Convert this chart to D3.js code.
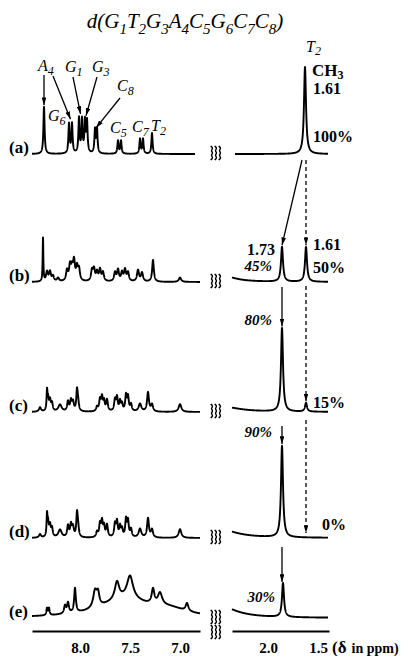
<!DOCTYPE html>
<html>
<head>
<meta charset="utf-8">
<title>NMR spectra d(GTGACGCC)</title>
<script src="https://d3js.org/d3.v7.min.js"></script>
<style>
  body { margin: 0; background: #fff; }
  svg text { font-family: "Liberation Serif", "Times New Roman", serif; fill: #000; }
  .trace { fill: none; stroke: #000; stroke-width: 1.9; stroke-linejoin: round; }
  .row-label { font-size: 17px; font-weight: bold; }
  .peak-name { font-size: 16px; font-style: italic; }
  .bold { font-size: 16px; font-weight: bold; }
  .bold-it { font-size: 15px; font-weight: bold; font-style: italic; }
  .arrow { stroke: #000; stroke-width: 1.3; fill: none; }
  .dash { stroke-dasharray: 4 3; }
  .axis path { stroke: #000; stroke-width: 2; }
  .axis text { font-size: 15px; font-weight: bold; }
  .brk { fill: none; stroke: #000; stroke-width: 1.4; }
</style>
</head>
<body>
<svg id="chart" width="419" height="656"></svg>
<script>
// tick labels (ppm)
const leftTicks = [8.0, 7.5, 7.0];
const rightTicks = [2.0, 1.5];
const rowLabels = ["(a)", "(b)", "(c)", "(d)", "(e)"];

// peaks: [ppm, intensity (% of T2 CH3 in a), half width (ppm)]
const aLeft = [
  [8.36, 54, 0.007],
  [8.11, 34, 0.007], [8.08, 34, 0.007],
  [8.01, 40, 0.007], [7.98, 38, 0.007],
  [7.95, 36, 0.007], [7.93, 36, 0.007],
  [7.85, 27, 0.007], [7.83, 27, 0.007],
  [7.62, 15, 0.007], [7.59, 15, 0.007],
  [7.40, 17, 0.007], [7.37, 17, 0.007],
  [7.28, 24, 0.007]
];
const aRight = [[1.63, 100, 0.012]];

const bLeft = [
  [8.37, 50, 0.004],
  [8.33, 11, 0.011], [8.30, 11, 0.011], [8.27, 6, 0.011], [8.22, 4, 0.012],
  [8.13, 12, 0.011], [8.10, 17, 0.011], [8.08, 13, 0.011], [8.06, 22, 0.011], [8.03, 15, 0.011], [8.01, 13, 0.011],
  [7.88, 12, 0.011], [7.86, 13, 0.011], [7.83, 10, 0.011], [7.80, 13, 0.011], [7.77, 10, 0.011],
  [7.65, 10, 0.011], [7.62, 13, 0.011], [7.58, 10, 0.011], [7.55, 13, 0.011], [7.52, 10, 0.011],
  [7.42, 13, 0.012], [7.38, 10, 0.012],
  [7.27, 25, 0.01],
  [7.00, 5, 0.014]
];
const bRight = [[2.45, 7, 0.15], [1.86, 40, 0.012], [1.62, 40, 0.012]];

const cLeft = [
  [8.40, 5, 0.012],
  [8.33, 20, 0.005], [8.32, 14, 0.009], [8.30, 12, 0.009], [8.28, 9, 0.009],
  [8.20, 8, 0.02],
  [8.12, 11, 0.01], [8.09, 12, 0.01], [8.07, 10, 0.01], [8.03, 22, 0.008], [8.02, 10, 0.01],
  [7.83, 5, 0.01], [7.80, 13, 0.01], [7.78, 15, 0.009], [7.76, 11, 0.009], [7.73, 13, 0.01],
  [7.65, 13, 0.01], [7.63, 15, 0.009], [7.60, 11, 0.009], [7.58, 8, 0.009],
  [7.54, 18, 0.009], [7.52, 16, 0.009], [7.49, 8, 0.01],
  [7.40, 9, 0.016],
  [7.32, 22, 0.011], [7.28, 8, 0.012],
  [7.00, 9, 0.016]
];
const cRight = [[2.45, 6, 0.2], [1.86, 96, 0.012], [1.62, 10, 0.012]];

const dLeft = [
  [8.40, 4, 0.012],
  [8.33, 22, 0.005], [8.32, 16, 0.009], [8.30, 13, 0.009], [8.28, 10, 0.009],
  [8.20, 9, 0.02],
  [8.12, 13, 0.01], [8.09, 14, 0.01], [8.07, 11, 0.01], [8.03, 25, 0.008], [8.02, 11, 0.01],
  [7.83, 6, 0.01], [7.80, 15, 0.01], [7.78, 17, 0.009], [7.76, 12, 0.009], [7.73, 14, 0.01],
  [7.65, 15, 0.01], [7.63, 17, 0.009], [7.60, 12, 0.009], [7.58, 9, 0.009],
  [7.54, 20, 0.009], [7.52, 18, 0.009], [7.49, 9, 0.01],
  [7.40, 10, 0.016],
  [7.32, 22, 0.011], [7.28, 9, 0.012],
  [7.00, 10, 0.016]
];
const dRight = [[2.5, 11, 0.2], [1.86, 105, 0.012]];

const eLeft = [
  [7.55, 21, 0.30], [7.10, 7, 0.2],
  [8.33, 8, 0.007], [8.31, 8, 0.007],
  [8.15, 9, 0.011], [8.12, 12, 0.011],
  [8.05, 28, 0.01],
  [7.85, 19, 0.022], [7.82, 14, 0.016],
  [7.63, 20, 0.026],
  [7.50, 26, 0.036],
  [7.27, 17, 0.016], [7.20, 14, 0.026],
  [6.93, 9, 0.016]
];
const eRight = [[2.5, 15, 0.2], [1.85, 39, 0.012]];

// labels
const titleParts = [["d(", ""], ["G", "1"], ["T", "2"], ["G", "3"], ["A", "4"], ["C", "5"], ["G", "6"], ["C", "7"], ["C", "8"], [")", ""]];
const methylPct = ["100%", "50%", "15%", "0%"];
const newPct = ["45%", "80%", "90%", "30%"];

// ---- layout
const svg = d3.select("#chart");
const rowBase = [154, 282, 412, 538, 618];
const xl = d3.scaleLinear().domain([8.48, 6.80]).range([32, 200]);
const xr = d3.scaleLinear().domain([2.36, 1.39]).range([232, 329]);
const yRow = i => d3.scaleLinear().domain([0, 100]).range([rowBase[i], rowBase[i] - 87]);

const defs = svg.append("defs");
defs.append("marker").attr("id", "ah")
  .attr("viewBox", "0 0 10 6").attr("refX", 10).attr("refY", 3)
  .attr("markerWidth", 6).attr("markerHeight", 3.6).attr("orient", "auto")
  .append("path").attr("d", "M0,0 L10,3 L0,6 Z").attr("fill", "#000");

function spectrum(peaks, hi, lo) {
  const pts = [];
  for (let p = hi; p >= lo - 1e-9; p -= 0.001) {
    let s = 0;
    for (const [c, h, w] of peaks) s += h / (1 + ((p - c) / w) ** 2);
    pts.push([p, s]);
  }
  return pts;
}

function drawTrace(peaks, x, y, hi, lo) {
  const line = d3.line().x(d => x(d[0])).y(d => y(d[1]));
  svg.append("path").attr("class", "trace").attr("d", line(spectrum(peaks, hi, lo)));
}

const lefts = [aLeft, bLeft, cLeft, dLeft, eLeft];
const rights = [aRight, bRight, cRight, dRight, eRight];
lefts.forEach((pk, i) => drawTrace(pk, xl, yRow(i), 8.48, i === 0 ? 6.85 : 6.80));
rights.forEach((pk, i) => drawTrace(pk, xr, yRow(i), i === 0 ? 2.33 : 2.36, 1.40));

// row labels
rowLabels.forEach((t, i) => {
  svg.append("text").attr("class", "row-label").attr("x", 9).attr("y", rowBase[i] - 1).text(t);
});

// break marks
function breakMark(x0, yc) {
  const zig = d3.line().curve(d3.curveBasis);
  for (let k = 0; k < 3; k++) {
    const pts = d3.range(7).map(j => [x0 + k * 4 + (j % 2 ? 1.3 : -1.3), yc - 7 + j * 14 / 6]);
    svg.append("path").attr("class", "brk").attr("d", zig(pts));
  }
}
rowBase.forEach(b => breakMark(212, b - 1));
breakMark(212, 632);

// axes
svg.append("g").attr("class", "axis").attr("transform", "translate(0,631)")
  .call(d3.axisBottom(xl).tickValues(leftTicks).tickSize(0).tickPadding(11).tickFormat(d3.format(".1f")));
svg.append("g").attr("class", "axis").attr("transform", "translate(0,631)")
  .call(d3.axisBottom(xr).tickValues(rightTicks).tickSize(0).tickPadding(11).tickFormat(d3.format(".1f")));
const unit = svg.append("text").attr("x", 332).attr("y", 653);
unit.append("tspan").attr("class", "bold").style("font-size", "17px").text("(δ");
unit.append("tspan").attr("class", "bold").attr("dx", 5).style("font-size", "14px").text("in ppm)");

// text with subscripts
function subText(x, y, parts, cls, size, subSize, anchor, shift) {
  const t = svg.append("text").attr("class", cls).attr("x", x).attr("y", y)
    .attr("text-anchor", anchor || "start").style("font-size", size + "px");
  let down = false;
  const sh = shift != null ? shift : Math.round(size * 0.28);
  parts.forEach(([m, s]) => {
    if (m) t.append("tspan").attr("dy", down ? -sh : 0).text(m), down = false;
    if (s) t.append("tspan").attr("dy", sh).style("font-size", subSize + "px").text(s), down = true;
  });
  return t;
}

// title
subText(185, 28, titleParts, "peak-name", 21, 15, "middle");

// peak assignments in (a)
const ya = yRow(0);
subText(38, 71, [["A", "4"]], "peak-name", 16, 12);
subText(65, 72, [["G", "1"]], "peak-name", 16, 12);
subText(92, 72, [["G", "3"]], "peak-name", 16, 12);
subText(117, 91, [["C", "8"]], "peak-name", 16, 12);
subText(48, 121, [["G", "6"]], "peak-name", 16, 12);
subText(110, 133, [["C", "5"]], "peak-name", 16, 12);
subText(132, 132, [["C", "7"]], "peak-name", 16, 12);
subText(151, 131, [["T", "2"]], "peak-name", 16, 12);

function arrow(x1, y1, x2, y2, dashed) {
  svg.append("line").attr("class", "arrow" + (dashed ? " dash" : ""))
    .attr("x1", x1).attr("y1", y1).attr("x2", x2).attr("y2", y2)
    .attr("marker-end", "url(#ah)");
}
arrow(xl(8.36), 75, xl(8.36), ya(56));
arrow(53, 76, xl(8.095), ya(40));
arrow(73, 77, xl(7.995), ya(46));
arrow(97, 77, xl(7.94), ya(44));
arrow(120, 98, xl(7.84), ya(30));

// methyl labels
subText(306, 52, [["T", "2"]], "peak-name", 16, 12, "start", 3);
subText(312, 76, [["CH", "3"]], "bold", 17, 12, "start", 3);
svg.append("text").attr("class", "bold").attr("x", 313).attr("y", 94).text("1.61");
const pctX = 313;
svg.append("text").attr("class", "bold").attr("x", pctX).attr("y", 142).text(methylPct[0]);
svg.append("text").attr("class", "bold").attr("x", pctX).attr("y", 250).text("1.61");
svg.append("text").attr("class", "bold").attr("x", pctX).attr("y", 273).text(methylPct[1]);
svg.append("text").attr("class", "bold").attr("x", pctX).attr("y", 408).text(methylPct[2]);
svg.append("text").attr("class", "bold").attr("x", 322).attr("y", 530).text(methylPct[3]);

svg.append("text").attr("class", "bold").attr("x", 275).attr("y", 255).attr("text-anchor", "end").text("1.73");
const newY = [271, 325, 437, 602];
newPct.forEach((t, i) => {
  svg.append("text").attr("class", "bold-it").attr("x", i === 3 ? 275 : 272).attr("y", newY[i])
    .attr("text-anchor", "end").text(t);
});

// transfer arrows
const xNew = xr(1.86), xOld = xr(1.62);
arrow(302, 160, xNew, yRow(1)(40) - 2);
arrow(xOld, 160, xOld, yRow(1)(40) - 2, true);
arrow(xOld, 286, xOld, yRow(2)(10) - 2, true);
arrow(xOld, 420, xOld, yRow(3)(0) - 5, true);
arrow(xNew, 287, xNew, yRow(2)(96) - 2);
arrow(xNew, 426, xNew, 444);
arrow(xNew, 547, xNew, yRow(4)(39) - 2);
</script>
</body>
</html>
